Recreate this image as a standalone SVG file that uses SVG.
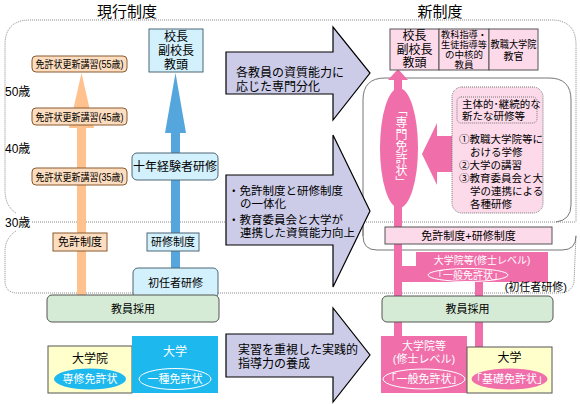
<svg xmlns="http://www.w3.org/2000/svg" width="580" height="404" viewBox="0 0 580 404">
<defs>
<style>
text{font-family:"Liberation Sans","Noto Sans CJK JP",sans-serif;fill:#000;}
.t15{font-size:15px;}
.t12{font-size:12px;}
.t115{font-size:11.5px;}
.t11{font-size:11px;}
.t105{font-size:10.5px;}
.t10{font-size:10px;}
.t95{font-size:9.5px;}
.c{text-anchor:middle;}
.w{fill:#fff;}
.dot{fill:none;stroke:#888;stroke-width:1;stroke-dasharray:1 1;}
.peach{fill:#FDDDBF;stroke:#8A5A30;stroke-width:1;}
.lblue{fill:#D3F1FC;stroke:#4D6677;stroke-width:1;}
.green{fill:#D5EBD5;stroke:#555;stroke-width:1;}
.lav{fill:#CCCCE8;stroke:#000;stroke-width:1.2;}
.lpink{fill:#FCDAEA;stroke:#555;stroke-width:1;}
.pink{fill:#F06EAA;}
.yel{fill:#FFFFCC;stroke:#555;stroke-width:1;}
.cyan{fill:#1CB8EE;}
</style>
</defs>

<!-- frames -->
<g id="frames">
<path class="dot" d="M16,213 Q5,206 5,190 L5,45 Q5,20 30,20 L551,20 Q576,20 576,45 L576,222"/>
<path class="dot" d="M32,222 L576,222"/>
<path class="dot" d="M16,231 Q5,238 5,252 L5,281 Q5,293 18,293 L558,293 Q572,293 574,282 L576,235"/>
<path d="M363,236 L363,100 Q363,78 385,78 L549,78 Q571,78 571,100 L571,205 Q571,220 556,222" fill="none" stroke="#777" stroke-width="1"/>
<path d="M363,222 L363,236 Q363,250 377,250 L562,250 Q576,250 576,236" fill="none" stroke="#777" stroke-width="1"/>
</g>

<!-- titles -->
<text class="t15 c" x="127" y="17">現行制度</text>
<text class="t15 c" x="440" y="17">新制度</text>

<!-- ages -->
<text class="t12" x="5" y="96">50歳</text>
<text class="t12" x="5" y="153">40歳</text>
<text class="t12" x="5" y="227">30歳</text>

<!-- connectors -->
<g id="connectors">
<rect x="77" y="125" width="9" height="171" fill="#FFC18D"/>
<polygon points="81.5,73 94,128 69,128" fill="#FFC18D"/>
<rect x="171" y="130" width="9" height="140" fill="#56A6DE"/>
<polygon points="175.5,73 186,133 165,133" fill="#56A6DE"/>
<rect class="pink" x="394" y="80" width="8" height="257"/>
<polygon class="pink" points="398,69 408,80 388,80"/>
<ellipse class="pink" cx="399" cy="148" rx="19" ry="60"/>
<rect class="pink" x="402" y="266" width="14" height="16"/>
<rect class="pink" x="475" y="281" width="8" height="67"/>
<polygon class="pink" points="422,154 437,123 437,136 453,136 453,172 437,172 437,185"/>
</g>

<!-- middle arrows -->
<g id="arrow1">
<polygon class="lav" points="226,52 333,52 333,27 370,73 333,120 333,94 226,94"/>
<text class="t12"><tspan x="236" y="77">各教員の資質能力に</tspan><tspan x="236" y="91">応じた専門分化</tspan></text>
</g>
<g id="arrow2">
<polygon class="lav" points="226,175 333,175 333,135 370,211 333,287 333,245 226,245"/>
<text class="t115"><tspan x="228" y="195">・免許制度と研修制度</tspan><tspan x="240" y="208">の一体化</tspan><tspan x="228" y="224">・教育委員会と大学が</tspan><tspan x="240" y="237">連携した資質能力向上</tspan></text>
</g>
<g id="arrow3">
<polygon class="lav" points="226,334 333,334 333,308 370,355 333,402 333,377 226,377"/>
<text class="t12"><tspan x="238" y="354">実習を重視した実践的</tspan><tspan x="238" y="368">指導力の養成</tspan></text>
</g>

<!-- current system nodes -->
<g id="koshu55">
<rect class="peach" x="32" y="56" width="95" height="16" rx="4"/>
<text class="t10 c" x="79.5" y="68" textLength="88" lengthAdjust="spacingAndGlyphs">免許状更新講習(55歳)</text>
</g>
<g id="koshu45">
<rect class="peach" x="32" y="108" width="95" height="17" rx="4"/>
<text class="t10 c" x="79.5" y="120.5" textLength="88" lengthAdjust="spacingAndGlyphs">免許状更新講習(45歳)</text>
</g>
<g id="koshu35">
<rect class="peach" x="32" y="168" width="95" height="17" rx="4"/>
<text class="t10 c" x="79.5" y="180.5" textLength="88" lengthAdjust="spacingAndGlyphs">免許状更新講習(35歳)</text>
</g>
<g id="menkyo">
<rect class="peach" x="53" y="233" width="54" height="18"/>
<text class="t11 c" x="80" y="246">免許制度</text>
</g>
<g id="kenshu">
<rect class="lblue" x="147" y="233" width="52" height="18"/>
<text class="t11 c" x="173" y="246">研修制度</text>
</g>
<g id="junen">
<rect class="lblue" x="132" y="153" width="86" height="27" rx="5"/>
<text class="t12 c" x="175" y="171">十年経験者研修</text>
</g>
<g id="kocho-old">
<rect class="lblue" x="149" y="29" width="54" height="43"/>
<text class="t12 c"><tspan x="176" y="41">校長</tspan><tspan x="176" y="55">副校長</tspan><tspan x="176" y="69">教頭</tspan></text>
</g>
<g id="shoninsha">
<rect class="lblue" x="133" y="268" width="85" height="30" rx="5"/>
<text class="t11 c" x="175.5" y="287">初任者研修</text>
</g>
<g id="saiyo-old">
<rect class="green" x="47" y="295" width="172" height="27" rx="5"/>
<text class="t11 c" x="133" y="313">教員採用</text>
</g>
<g id="daigakuin-old">
<rect class="yel" x="48" y="346" width="84" height="47"/>
<text class="t12 c" x="90" y="363">大学院</text>
<ellipse cx="90" cy="379" rx="36" ry="10.5" class="cyan"/>
<text class="t11 c w" x="90" y="383">専修免許状</text>
</g>
<g id="daigaku-old">
<rect class="cyan" x="132" y="336" width="86" height="57"/>
<text class="t12 c w" x="175" y="356">大学</text>
<ellipse cx="175" cy="379" rx="36" ry="10.5" fill="none" stroke="#fff" stroke-width="1"/>
<text class="t11 c w" x="175" y="383">一種免許状</text>
</g>

<!-- new system nodes -->
<g id="kocho-new">
<rect class="lpink" x="390" y="29" width="49" height="41"/>
<text class="t12 c"><tspan x="414.5" y="40">校長</tspan><tspan x="414.5" y="54">副校長</tspan><tspan x="414.5" y="67">教頭</tspan></text>
</g>
<g id="chukaku">
<rect class="lpink" x="439" y="29" width="50" height="41"/>
<text class="t95 c"><tspan x="464" y="38" textLength="46" lengthAdjust="spacingAndGlyphs">教科指導・</tspan><tspan x="464" y="48" textLength="46" lengthAdjust="spacingAndGlyphs">生徒指導等</tspan><tspan x="464" y="58">の中核的</tspan><tspan x="464" y="68">教員</tspan></text>
</g>
<g id="kyokan">
<rect class="lpink" x="489" y="29" width="49" height="41"/>
<text class="t10 c"><tspan x="513.5" y="48" textLength="46" lengthAdjust="spacingAndGlyphs">教職大学院</tspan><tspan x="513.5" y="60">教官</tspan></text>
</g>
<g id="senmon">
<text class="t12 c w" x="400" y="146" style="writing-mode:vertical-rl">「専門免許状」</text>
</g>
<g id="kenshu-new">
<rect x="452" y="87" width="91" height="126" rx="10" fill="#FCDAEA" stroke="#777" stroke-width="1" stroke-dasharray="1 1"/>
<rect x="457" y="97" width="80" height="26" rx="4" fill="none" stroke="#777" stroke-width="1" stroke-dasharray="1 1"/>
<text class="t105"><tspan x="462" y="108">主体的･継続的な</tspan><tspan x="462" y="120">新たな研修等</tspan></text>
<text class="t105"><tspan x="459" y="143">①教職大学院等に</tspan><tspan x="470" y="156">おける学修</tspan><tspan x="459" y="169">②大学の講習</tspan><tspan x="459" y="182">③教育委員会と大</tspan><tspan x="470" y="195">学の連携による</tspan><tspan x="470" y="208">各種研修</tspan></text>
</g>
<g id="seido-new">
<rect class="lpink" x="385" y="227" width="167" height="17"/>
<text class="t11 c" x="468.5" y="240">免許制度+研修制度</text>
</g>
<g id="ippan-upper">
<rect class="pink" x="416" y="252" width="132" height="30"/>
<text class="t10 c w" x="482" y="264">大学院等(修士レベル)</text>
<ellipse cx="468" cy="275" rx="40" ry="6.5" fill="none" stroke="#fff" stroke-width="1"/>
<text class="t10 c w" x="468" y="279">「一般免許状」</text>
</g>
<text class="t11" x="567" y="291" text-anchor="end">(初任者研修)</text>
<g id="saiyo-new">
<rect class="green" x="382" y="296" width="171" height="26" rx="5"/>
<text class="t11 c" x="467.5" y="313">教員採用</text>
</g>
<g id="daigakuin-new">
<rect class="pink" x="381" y="336" width="86" height="57"/>
<text class="t11 c w"><tspan x="424" y="350">大学院等</tspan><tspan x="424" y="363">(修士レベル)</tspan></text>
<ellipse cx="424" cy="379" rx="41" ry="10" fill="none" stroke="#fff" stroke-width="1"/>
<text class="t11 c w" x="424" y="383">「一般免許状」</text>
</g>
<g id="daigaku-new">
<rect class="yel" x="467" y="347" width="85" height="46"/>
<text class="t12 c" x="509.5" y="362">大学</text>
<ellipse class="pink" cx="509.5" cy="379" rx="38" ry="10.5"/>
<text class="t11 c w" x="509.5" y="383">「基礎免許状」</text>
</g>
</svg>
